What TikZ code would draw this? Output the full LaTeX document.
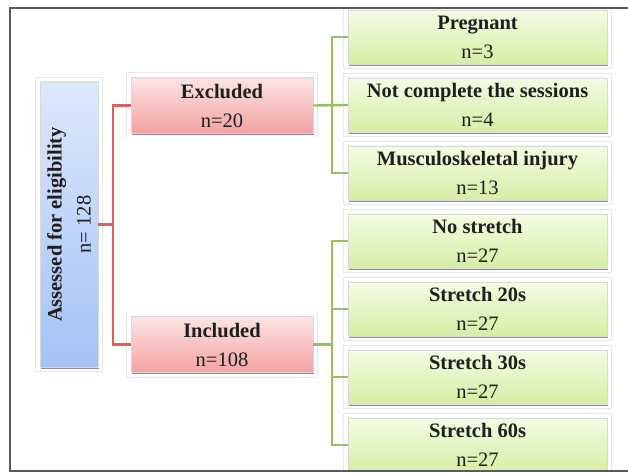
\documentclass[tikz,border=0pt]{standalone}
\usepackage{fontspec}
\setmainfont{Liberation Serif}
\usetikzlibrary{shadows}
\definecolor{bluetop}{HTML}{DDE8FB}
\definecolor{bluebot}{HTML}{A4C2F6}
\definecolor{redtop}{HTML}{FDE4E4}
\definecolor{redbot}{HTML}{F3A2A2}
\definecolor{greentop}{HTML}{F4FBE2}
\definecolor{greenbot}{HTML}{D5EFA4}
\definecolor{redline}{HTML}{D9605C}
\definecolor{greenline}{HTML}{9DBD5C}
\definecolor{framecol}{HTML}{5A5A5A}
\definecolor{txt}{HTML}{1E1E1E}
\tikzset{
  boxbase/.style={rectangle, inner sep=0pt, align=center, text=txt,
    font=\fontsize{20.5}{29}\selectfont,
    preaction={draw=black!9, line width=10pt},
    preaction={draw=white, line width=8.6pt},
    general shadow={shadow xshift=1.3pt, shadow yshift=-1.6pt, fill=black!45},
    draw=black!15, line width=0.4pt},
  bluebox/.style={boxbase, top color=bluetop, bottom color=bluebot},
  redbox/.style={boxbase, top color=redtop, bottom color=redbot,
    minimum width=182pt, minimum height=56pt},
  greenbox/.style={boxbase, top color=greentop, bottom color=greenbot,
    minimum width=259pt, minimum height=54pt},
  redconn/.style={draw=redline, line width=2.2pt},
  greenconn/.style={draw=greenline, line width=2.4pt},
}
\begin{document}
\begin{tikzpicture}[x=1pt, y=-1pt]
\useasboundingbox (0,0) rectangle (628,473);
\fill[white] (0,0) rectangle (628,473);
\begin{scope}
\clip (10,8) rectangle (628,471);
\node[bluebox, rotate=90, minimum width=285pt, minimum height=58pt] (blue) at (69,224.5)
  {\bfseries Assessed for eligibility\\ n= 128};
\node[redbox] (exc) at (222,105.5) {\bfseries Excluded\\ n=20};
\node[redbox] (inc) at (222,344.5) {\bfseries Included\\ n=108};
\node[greenbox] (preg) at (477.5,37) {\bfseries Pregnant\\ n=3};
\node[greenbox] (nc) at (477.5,105) {\bfseries Not complete the sessions\\ n=4};
\node[greenbox] (mus) at (477.5,173) {\bfseries Musculoskeletal injury\\ n=13};
\node[greenbox] (ns) at (477.5,241) {\bfseries No stretch\\ n=27};
\node[greenbox] (s20) at (477.5,309) {\bfseries Stretch 20s\\ n=27};
\node[greenbox] (s30) at (477.5,377) {\bfseries Stretch 30s\\ n=27};
\node[greenbox] (s60) at (477.5,445) {\bfseries Stretch 60s\\ n=27};
\coordinate (rs) at (113,0);
\coordinate (gs) at (332,0);
\draw[redconn] (blue.south) -- (blue.south -| rs);
\draw[redconn] (exc.west) -- (exc.west -| rs) -- (inc.west -| rs) -- (inc.west);
\draw[greenconn] (exc.east) -- (nc.west);
\draw[greenconn] (preg.west) -- (preg.west -| gs) -- (mus.west -| gs) -- (mus.west);
\draw[greenconn] (inc.east) -- (inc.east -| gs);
\draw[greenconn] (ns.west) -- (ns.west -| gs) -- (s60.west -| gs) -- (s60.west);
\draw[greenconn] (s20.west) -- (s20.west -| gs);
\draw[greenconn] (s30.west) -- (s30.west -| gs);
\end{scope}
\draw[framecol, line width=2pt] (628,8) -- (10,8) -- (10,471) -- (628,471);
\end{tikzpicture}
\end{document}
